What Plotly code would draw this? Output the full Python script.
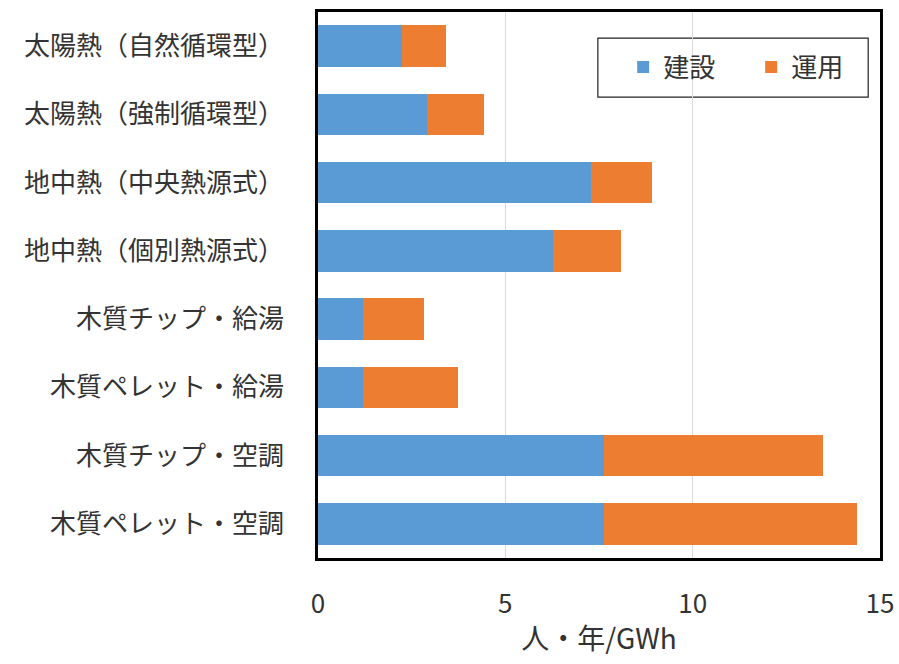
import plotly.graph_objects as go

# Employment intensity of renewable heat systems (person-years per GWh)
categories = [
    "太陽熱（自然循環型）",
    "太陽熱（強制循環型）",
    "地中熱（中央熱源式）",
    "地中熱（個別熱源式）",
    "木質チップ・給湯",
    "木質ペレット・給湯",
    "木質チップ・空調",
    "木質ペレット・空調",
]
construction = [2.23, 2.90, 7.28, 6.27, 1.20, 1.20, 7.64, 7.64]
operation = [1.19, 1.53, 1.64, 1.81, 1.64, 2.54, 5.84, 6.74]
x_ticks = [0, 5, 10, 15]
x_title = "人・年/GWh"

FONT = "Noto Sans CJK JP, Noto Sans, sans-serif"
TEXT = "#333333"

fig = go.Figure()
fig.add_trace(go.Bar(
    y=categories, x=construction, name="建設", orientation="h",
    marker=dict(color="#5B9BD5", line=dict(width=0)),
))
fig.add_trace(go.Bar(
    y=categories, x=operation, name="運用", orientation="h",
    marker=dict(color="#ED7D31", line=dict(width=0)),
))

# legend frame
fig.add_shape(
    type="rect", xref="paper", yref="paper",
    x0=0.498, x1=0.979, y0=0.844, y1=0.952,
    line=dict(color="#222222", width=1.2), fillcolor="white", layer="below",
)

fig.update_layout(
    barmode="stack",
    bargap=0.39,
    width=899, height=664,
    margin=dict(l=318, r=19, t=12, b=106, autoexpand=False),
    paper_bgcolor="white",
    plot_bgcolor="white",
    font=dict(family=FONT, color=TEXT, size=26),
    showlegend=True,
    legend=dict(
        orientation="h",
        x=0.543, xanchor="left",
        y=0.899, yanchor="middle",
        borderwidth=0,
        bgcolor="rgba(0,0,0,0)",
        font=dict(family=FONT, size=26, color=TEXT),
        traceorder="normal",
        entrywidth=83,
        itemwidth=30,
    ),
    xaxis=dict(
        range=[0, 15],
        tickvals=x_ticks,
        ticktext=[str(v) for v in x_ticks],
        showgrid=True, gridcolor="#d9d9d9", gridwidth=1,
        zeroline=False,
        showline=True, linecolor="black", linewidth=2.5, mirror=True,
        ticks="", ticklabelstandoff=21,
        tickfont=dict(family=FONT, size=26, color=TEXT),
        title=dict(text=x_title, font=dict(family=FONT, size=28, color=TEXT), standoff=11),
        fixedrange=True,
    ),
    yaxis=dict(
        categoryorder="array",
        categoryarray=categories,
        autorange="reversed",
        showgrid=False,
        showline=True, linecolor="black", linewidth=2.5, mirror=True,
        ticks="", ticklabelstandoff=26,
        tickfont=dict(family=FONT, size=26, color=TEXT),
        fixedrange=True,
    ),
)

fig.write_html("out.html")
